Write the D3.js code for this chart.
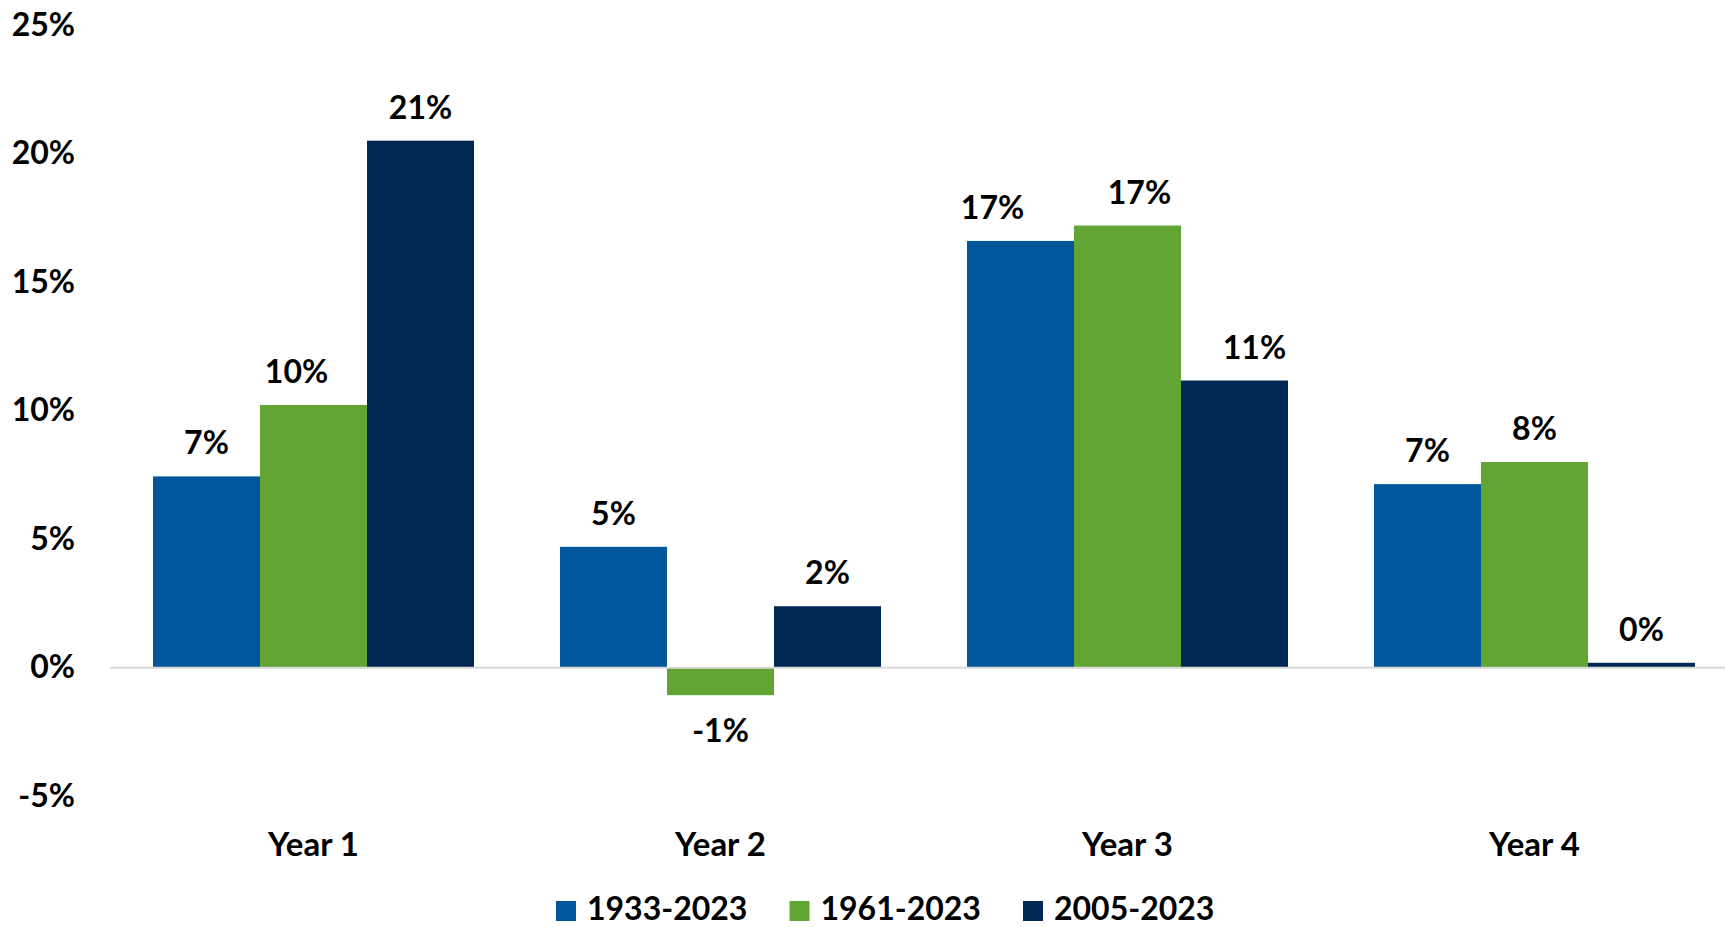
<!doctype html>
<html>
  <head>
    <style>
      body { margin: 0; background: white; }
      svg text { font-family: 'Lato', 'Open Sans', sans-serif; font-weight: bold; fill: #000; }
    </style>
    <script src="https://d3js.org/d3.v7.min.js"></script>
  </head>
  <body>
    <svg class="chart" width="1725" height="927"></svg>
    <script>
      // data
      var categories = ["Year 1", "Year 2", "Year 3", "Year 4"];
      var seriesNames = ["1933-2023", "1961-2023", "2005-2023"];
      var values1933 = [7.44, 4.70, 16.6, 7.14];
      var values1961 = [10.22, -1.07, 17.2, 8.0];
      var values2005 = [20.5, 2.39, 11.17, 0.19];
      var yTicks = [-5, 0, 5, 10, 15, 20, 25];
      var colors = ["#01579B", "#63A534", "#002855"];

      var series = [values1933, values1961, values2005];
      // a few labels were moved sideways in the original, [category][series] px
      var labelShift = [[0, -17, 0], [0, 0, 0], [-28, 12, 20], [0, 0, 0]];

      var svg = d3.select("svg");

      var x = d3.scaleBand().domain(categories).range([110, 1738])
        .paddingInner(0.2113).paddingOuter(0.1057);
      var xSub = d3.scaleBand().domain(d3.range(series.length)).range([0, x.bandwidth()]);
      var y = d3.scaleLinear().domain([-5, 25]).range([796.2, 25]);

      // y axis labels
      var yAxis = svg.append("g")
        .attr("transform", "translate(82,0)")
        .call(d3.axisLeft(y).tickValues(yTicks).tickSize(0).tickPadding(7)
              .tickFormat(function(d){ return d + "%"; }));
      yAxis.select(".domain").remove();
      yAxis.selectAll("text").style("font-size", "32px").style("font-family", null);

      // category labels
      var xAxis = svg.append("g")
        .attr("transform", "translate(0,800)")
        .call(d3.axisBottom(x).tickSize(0).tickPadding(33));
      xAxis.select(".domain").remove();
      xAxis.selectAll("text").style("font-size", "33px").style("font-family", null);

      // bars
      var groups = svg.selectAll(".grp")
        .data(categories)
        .enter().append("g")
        .attr("transform", function(d){ return "translate(" + x(d) + ",0)"; });

      groups.each(function(cat, ci){
        var g = d3.select(this);
        series.forEach(function(vals, si){
          var v = vals[ci];
          g.append("rect")
            .attr("x", xSub(si))
            .attr("width", xSub.bandwidth())
            .attr("y", y(Math.max(0, v)))
            .attr("height", Math.abs(y(v) - y(0)))
            .attr("fill", colors[si]);
          g.append("text")
            .attr("x", xSub(si) + xSub.bandwidth() / 2 + labelShift[ci][si])
            .attr("y", v >= 0 ? y(v) - 22 : y(v) + 47)
            .attr("text-anchor", "middle")
            .style("font-size", "32px")
            .text(Math.round(v) + "%");
        });
      });

      // zero line
      svg.append("line")
        .attr("x1", 110).attr("x2", 1725)
        .attr("y1", y(0)).attr("y2", y(0))
        .attr("stroke", "#D9D9D9").attr("stroke-width", 2);

      // legend
      var legend = svg.append("g").attr("transform", "translate(556,901)");
      var item = legend.selectAll(".leg")
        .data(seriesNames)
        .enter().append("g")
        .attr("transform", function(d, i){ return "translate(" + (i * 233.5) + ",0)"; });
      item.append("rect")
        .attr("width", 20).attr("height", 20)
        .attr("fill", function(d, i){ return colors[i]; });
      item.append("text")
        .attr("x", 31).attr("y", 19)
        .style("font-size", "32px")
        .text(function(d){ return d; });
    </script>
  </body>
</html>
